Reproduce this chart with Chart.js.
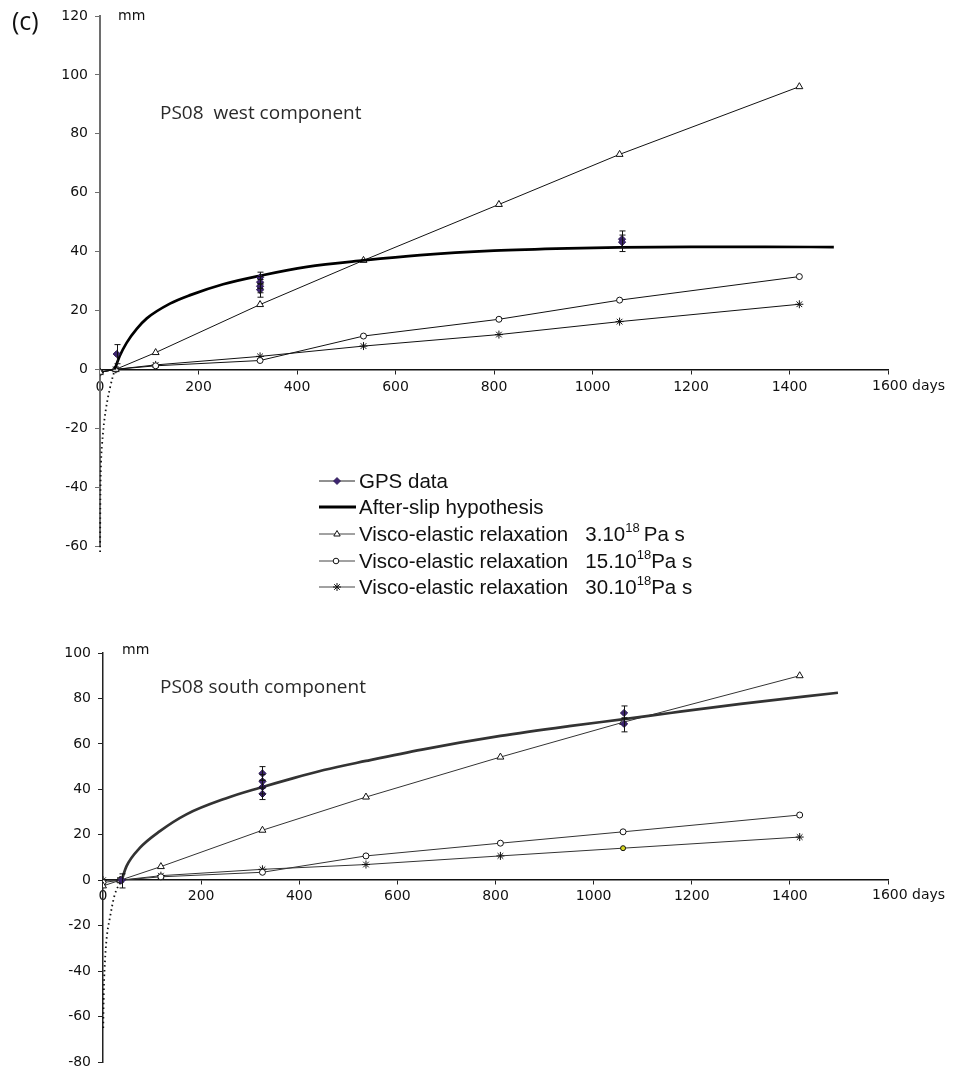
<!DOCTYPE html>
<html><head><meta charset="utf-8">
<script src="https://cdn.jsdelivr.net/npm/chart.js@4"></script>
<style>
html,body{margin:0;padding:0;background:#fff;overflow:hidden;width:961px;height:1067px;position:relative;}
canvas{position:absolute;left:0;}
#c1{top:0;}
#c2{top:610px;}
.t{position:absolute;white-space:nowrap;}
.ttl{font-family:"Open Sans",sans-serif;font-size:19px;line-height:19px;color:#2a2a2a;}
.mm{font-family:"DejaVu Sans",sans-serif;font-size:14px;line-height:14px;color:#111;}
.lg{position:absolute;left:318px;height:24px;}
.lg svg{position:absolute;left:0;top:0;}
.lg span{position:absolute;left:41px;top:0;font-family:"Liberation Sans",Arial,sans-serif;font-size:20.5px;line-height:24px;color:#111;white-space:nowrap;}
.lg sup{font-size:13px;vertical-align:0;position:relative;top:-9px;}
</style>
</head><body>
<canvas id="c1" width="961" height="620"></canvas>
<canvas id="c2" width="961" height="470"></canvas>

<div class="t" style="left:12px;top:8px;font-family:'Open Sans',sans-serif;font-size:25px;line-height:25px;color:#111;">(c)</div>
<div class="t mm" style="left:118px;top:8px;">mm</div>
<div class="t ttl" style="left:160px;top:103px;">PS08&nbsp; west component</div>
<div class="t mm" style="left:122px;top:642px;">mm</div>
<div class="t ttl" style="left:160px;top:677px;">PS08 south component</div>

<div class="lg" style="top:469px"><svg width="40" height="24"><line x1="1" y1="12" x2="37" y2="12" stroke="#222" stroke-width="1"/><polygon points="19,8.5 22.5,12 19,15.5 15.5,12" fill="#3d2470" stroke="#2a1850" stroke-width="0.8"/></svg><span>GPS data</span></div>
<div class="lg" style="top:495px"><svg width="40" height="24"><line x1="1" y1="12" x2="38" y2="12" stroke="#000" stroke-width="3"/></svg><span>After-slip hypothesis</span></div>
<div class="lg" style="top:522px"><svg width="40" height="24"><line x1="1" y1="12" x2="37" y2="12" stroke="#444" stroke-width="1"/><polygon points="19,8.5 22.2,14 15.8,14" fill="#fff" stroke="#111" stroke-width="1"/></svg><span>Visco-elastic relaxation&nbsp;&nbsp;&nbsp;3.10<sup>18</sup>&thinsp;Pa s</span></div>
<div class="lg" style="top:549px"><svg width="40" height="24"><line x1="1" y1="12" x2="37" y2="12" stroke="#444" stroke-width="1"/><circle cx="18" cy="12" r="2.8" fill="#fff" stroke="#111" stroke-width="1"/></svg><span>Visco-elastic relaxation&nbsp;&nbsp;&nbsp;15.10<sup>18</sup>Pa s</span></div>
<div class="lg" style="top:575px"><svg width="40" height="24"><line x1="1" y1="12" x2="37" y2="12" stroke="#444" stroke-width="1"/><path d="M19 8 V16 M15 12 H23 M16.2 9.2 L21.8 14.8 M21.8 9.2 L16.2 14.8" stroke="#111" stroke-width="1"/></svg><span>Visco-elastic relaxation&nbsp;&nbsp;&nbsp;30.10<sup>18</sup>Pa s</span></div>

<script>
// ---------- Top panel: PS08 west component ----------
const topVisDays  = [0, 32, 113, 325, 535, 810, 1055, 1420];
const topVisco3   = [-1, 0, 5.7, 22, 37, 56, 73, 96];
const topVisco15  = [-1, 0, 1.2, 3, 11.3, 17, 23.5, 31.5];
const topVisco30  = [-1, 0, 1.5, 4.4, 7.9, 11.8, 16.2, 22.1];

const topAfterDays = [30, 40, 54, 75, 95, 142, 183, 250, 325, 420, 535, 650, 800, 950, 1055, 1200, 1350, 1490];
const topAfter     = [0, 4.5, 9, 13.8, 17.3, 22.3, 25.2, 28.9, 31.8, 34.8, 37, 38.8, 40.3, 41.1, 41.4, 41.6, 41.6, 41.5];
const topEarlyDays = [0.2, 0.5, 1, 2, 4, 7, 12, 20, 30];
const topEarly     = [-62, -50, -40, -32, -26, -20, -13.5, -6.5, 0];
const topStrayDays = [0];
const topStray     = [-79.5];

const topGpsDays = [34, 325, 325, 325, 325, 1060, 1060];
const topGps     = [5.2, 31.2, 29.6, 28.2, 27, 44.2, 43.2];
const topGpsLow  = [1.9, 29, 27.5, 26, 24.5, 41.3, 40];
const topGpsHigh = [8.4, 33, 31.5, 30.5, 29, 47, 45.6];

const topYTicks = [-60, 120];

// ---------- Bottom panel: PS08 south component ----------
const botVisDays  = [0, 35, 118, 325, 536, 810, 1060, 1420];
const botVisco3   = [-2.5, 0, 6, 22, 36.6, 54.2, 69.5, 90];
const botVisco15  = [-1, 0, 1.5, 3.5, 10.7, 16.3, 21.3, 28.7];
const botVisco30  = [0, 0, 2, 4.8, 6.9, 10.7, 14.1, 19];

const botAfterDays = [38, 48, 75, 116, 170, 250, 320, 381, 450, 536, 650, 810, 950, 1066, 1156, 1300, 1498];
const botAfter     = [0, 6.2, 14.2, 21.6, 29, 36, 40.7, 44.5, 48.5, 52.5, 57.5, 63.5, 67.8, 71, 73.6, 77.6, 82.5];
const botEarlyDays = [0.5, 1, 2, 4, 7.5, 14, 24, 38];
const botEarly     = [-65, -56.3, -46, -35.7, -25.4, -16.6, -6.3, 0];

const botGpsDays = [38, 325, 325, 325, 325, 1062, 1062];
const botGps     = [0, 47, 43.5, 41, 38, 73.6, 68.8];
const botGpsLow  = [-3.4, 44, 40.5, 38, 35.5, 71, 65.3];
const botGpsHigh = [2.8, 50, 46.5, 44, 41, 76.7, 71.5];

const botYTicks = [-80, 100];

const xMax = 1600;

function pts(xs, ys) { return xs.map((x, i) => ({x: x, y: ys[i]})); }

const TICK_FONT = {family: 'DejaVu Sans', size: 14};

function errPlugin(days, low, high) {
  return {
    id: 'errbars',
    afterDatasetsDraw(chart) {
      const xs = chart.scales.x, ys = chart.scales.y, ctx = chart.ctx;
      ctx.save();
      ctx.strokeStyle = '#111';
      ctx.lineWidth = 1;
      for (let i = 0; i < days.length; i++) {
        const x = Math.round(xs.getPixelForValue(days[i])) + 0.5;
        const y1 = ys.getPixelForValue(low[i]);
        const y2 = ys.getPixelForValue(high[i]);
        ctx.beginPath();
        ctx.moveTo(x, y1); ctx.lineTo(x, y2);
        ctx.moveTo(x - 3, y1); ctx.lineTo(x + 3, y1);
        ctx.moveTo(x - 3, y2); ctx.lineTo(x + 3, y2);
        ctx.stroke();
      }
      ctx.restore();
    }
  };
}

function daysPlugin(pad) {
  return {
    id: 'days',
    afterDraw(chart) {
      const xs = chart.scales.x, ys = chart.scales.y, ctx = chart.ctx;
      ctx.save();
      ctx.font = '14px "DejaVu Sans"';
      ctx.fillStyle = '#111';
      ctx.textAlign = 'left';
      ctx.textBaseline = 'top';
      const x = xs.getPixelForValue(xMax);
      ctx.fillText(xMax + ' days', x - 16, ys.getPixelForValue(0) + 4 + pad);
      ctx.restore();
    }
  };
}

function build(el, o) {
  const ds = [
    { data: pts(o.gpsDays, o.gps), showLine: false, pointStyle: 'rectRot', pointRadius: 3.6,
      pointBackgroundColor: '#3d2470', pointBorderColor: '#2a1850', pointBorderWidth: 1 },
    { data: pts(o.afterDays, o.after), showLine: true, borderColor: o.afterColor, borderWidth: 2.7,
      pointRadius: 0, cubicInterpolationMode: 'monotone', fill: false },
    { data: pts(o.earlyDays, o.early), showLine: true, borderColor: '#111', borderWidth: 1.8,
      borderDash: [1.5, 3.2], pointRadius: 0, cubicInterpolationMode: 'monotone', fill: false, clip: false },
    { data: pts(o.visDays, o.v3), showLine: true, borderColor: o.visColor, borderWidth: 1,
      pointStyle: 'triangle', pointRadius: 4, pointBackgroundColor: '#fff', pointBorderColor: '#111', pointBorderWidth: 1 },
    { data: pts(o.visDays, o.v15), showLine: true, borderColor: o.visColor, borderWidth: 1,
      pointStyle: 'circle', pointRadius: 3, pointBackgroundColor: '#fff', pointBorderColor: '#111', pointBorderWidth: 1 },
    { data: pts(o.visDays, o.v30), showLine: true, borderColor: o.visColor, borderWidth: 1,
      pointStyle: o.starStyle, pointRadius: o.starRadius, pointBackgroundColor: o.starFill,
      pointBorderColor: '#111', pointBorderWidth: 1 }
  ];
  if (o.strayDays) {
    ds.push({ data: pts(o.strayDays, o.stray), showLine: false, pointStyle: 'circle', pointRadius: 1.2,
      pointBackgroundColor: '#111', pointBorderWidth: 0, clip: false });
  }
  return new Chart(el, {
    type: 'scatter',
    data: { datasets: ds },
    options: {
      responsive: false,
      animation: false,
      layout: { padding: o.padding },
      plugins: { legend: { display: false }, tooltip: { enabled: false } },
      scales: {
        x: {
          type: 'linear', position: { y: 0 }, min: 0, max: xMax,
          ticks: { stepSize: 200, font: TICK_FONT, color: '#111', padding: o.xPad, maxRotation: 0,
                   autoSkip: false, callback: v => (v === xMax ? '' : String(v)) },
          grid: { display: true, drawOnChartArea: false, drawTicks: true, tickLength: 4, color: '#222', lineWidth: 1 },
          border: { display: true, color: '#111', width: 1.5 }
        },
        y: {
          type: 'linear', position: 'left', min: o.yTicks[0], max: o.yTicks[1],
          afterFit: s => { s.width = o.yWidth; },
          ticks: { stepSize: 20, font: TICK_FONT, color: '#111', padding: 7 },
          grid: { display: true, drawOnChartArea: false, drawTicks: true, tickLength: 5, color: o.yColor, lineWidth: 1 },
          border: { display: true, color: o.yColor, width: o.yBorderW }
        }
      }
    },
    plugins: [errPlugin(o.gpsDays, o.gpsLow, o.gpsHigh), daysPlugin(o.xPad)]
  });
}

build(document.getElementById('c1'), {
  visDays: topVisDays, v3: topVisco3, v15: topVisco15, v30: topVisco30,
  afterDays: topAfterDays, after: topAfter, earlyDays: topEarlyDays, early: topEarly,
  strayDays: topStrayDays, stray: topStray,
  gpsDays: topGpsDays, gps: topGps, gpsLow: topGpsLow, gpsHigh: topGpsHigh,
  yTicks: topYTicks, yWidth: 100, yColor: '#6e6e6e', yBorderW: 2,
  afterColor: '#000', visColor: '#111', xPad: 6,
  starStyle: 'star', starRadius: 4, starFill: '#fff',
  padding: { left: 0, top: 16, right: 73, bottom: 74 }
});

build(document.getElementById('c2'), {
  visDays: botVisDays, v3: botVisco3, v15: botVisco15, v30: botVisco30,
  afterDays: botAfterDays, after: botAfter, earlyDays: botEarlyDays, early: botEarly,
  gpsDays: botGpsDays, gps: botGps, gpsLow: botGpsLow, gpsHigh: botGpsHigh,
  yTicks: botYTicks, yWidth: 103, yColor: '#222', yBorderW: 1.5,
  afterColor: '#333', visColor: '#333', xPad: 4,
  starStyle: ctx => (ctx.dataIndex === 6 ? 'circle' : 'star'),
  starRadius: ctx => (ctx.dataIndex === 6 ? 2.5 : 4),
  starFill: ctx => (ctx.dataIndex === 6 ? '#d8d820' : '#fff'),
  padding: { left: 0, top: 43, right: 73, bottom: 18 }
});
</script>
</body></html>
